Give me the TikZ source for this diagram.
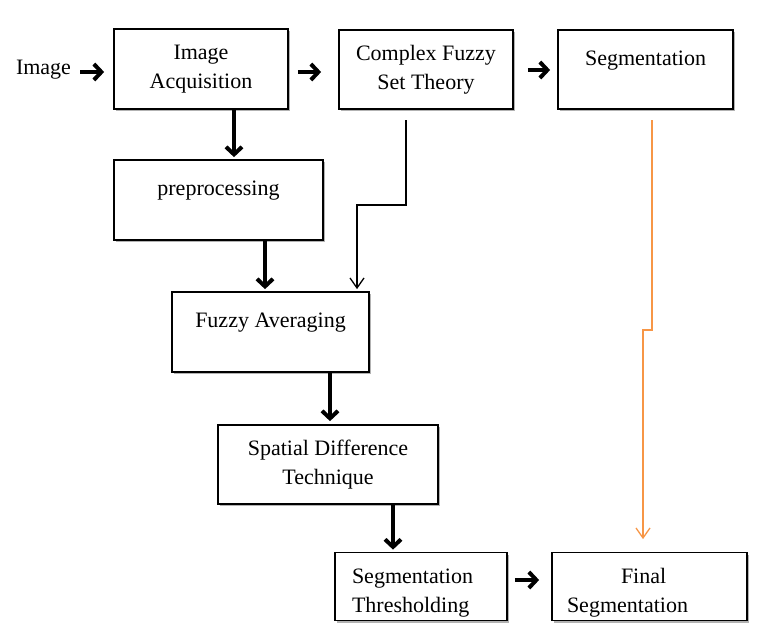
\documentclass[tikz,border=0pt]{standalone}
\usepackage{fontspec}
\setmainfont{Liberation Serif}
\usetikzlibrary{arrows.meta,shadows}
\definecolor{arrorange}{HTML}{F79646}
\begin{document}
\begin{tikzpicture}[x=1pt,y=-1pt,
  txt/.style={font=\fontsize{22}{29}\selectfont},
  box/.style={txt,draw,line width=1.8pt,fill=white,inner sep=0pt,align=center,
    drop shadow={shadow xshift=2pt,shadow yshift=-2pt,opacity=0.3,fill=black}},
  topbox/.style={box,text height=15pt,text depth=24pt},
  bigarrow/.style={line width=4pt,-{Straight Barb[length=7.5pt,width=16pt]}},
  thinarrow/.style={line width=1.3pt,-{Straight Barb[length=10pt,width=14pt]}},
  orangearrow/.style={thinarrow,draw=arrorange}
]
\useasboundingbox (0,0) rectangle (779,641);
\node[txt,inner sep=0pt] (img) at (43.5,70) {Image};
\node[box,minimum width=174pt,minimum height=80pt] (ia) at (201,69) {Image\\Acquisition};
\node[box,minimum width=174pt,minimum height=79pt] (cf) at (426,69.5) {Complex Fuzzy\\Set Theory};
\node[topbox,minimum width=175pt,minimum height=79pt] (seg) at (645.5,69.5) {Segmentation};
\node[topbox,minimum width=209pt,minimum height=80pt] (pre) at (218.5,200) {preprocessing};
\node[topbox,minimum width=197pt,minimum height=80pt] (fa) at (270.5,332) {Fuzzy Averaging};
\node[box,minimum width=220pt,minimum height=79pt] (sdt) at (328,464.5) {Spatial Difference\\Technique};
\node[box,minimum width=172pt,minimum height=68pt,text width=138pt,inner xsep=17pt,align=left,text height=27pt] (st) at (421,586.5) {Segmentation\\Thresholding};
\node[box,minimum width=195pt,minimum height=68pt,text width=165pt,inner xsep=15pt,align=left,text height=27pt] (fs) at (649.5,586.5) {\hspace*{54pt}Final\\Segmentation};
% horizontal thick arrows
\draw[bigarrow,shorten <=9pt,shorten >=9pt] ([yshift=-2pt]img.east) -- ([yshift=-3pt]ia.west);
\draw[bigarrow,shorten <=9pt,shorten >=17pt] ([yshift=-3pt]ia.east) -- ([yshift=-2.5pt]cf.west);
\draw[bigarrow,shorten <=14pt,shorten >=7pt] ([yshift=-0.5pt]cf.east) -- ([yshift=-0.5pt]seg.west);
\draw[bigarrow,shorten <=7pt,shorten >=12pt] ([yshift=6.5pt]st.east) -- ([yshift=6.5pt]fs.west);
% vertical thick arrows
\draw[bigarrow,shorten >=2pt] ([xshift=33pt]ia.south) -- ([xshift=15.5pt]pre.north);
\draw[bigarrow,shorten >=2pt] ([xshift=46.5pt]pre.south) -- ([xshift=-5.5pt]fa.north);
\draw[bigarrow,shorten >=3pt] ([xshift=59.5pt]fa.south) -- ([xshift=2pt]sdt.north);
\draw[bigarrow,shorten >=2pt] ([xshift=65pt]sdt.south) -- ([xshift=-28pt]st.north);
% thin connectors
\coordinate (c1) at (406,120);
\draw[thinarrow,shorten >=2pt] (c1) -- ++(0,85) -| ([xshift=86.5pt]fa.north);
\coordinate (c2) at (652,120);
\draw[orangearrow,shorten >=12.5pt] (c2) -- ++(0,210) -| ([xshift=-6.5pt]fs.north);
\end{tikzpicture}
\end{document}
